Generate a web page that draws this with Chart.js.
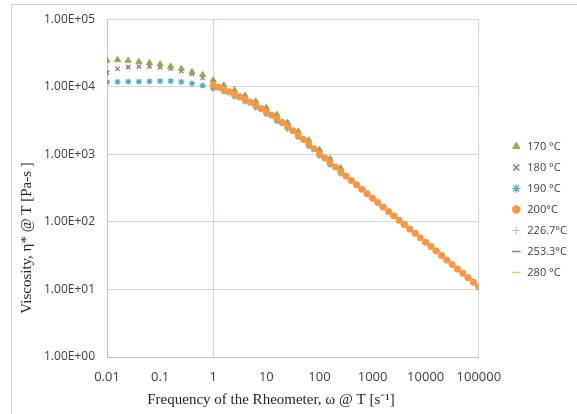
<!DOCTYPE html>
<html>
<head>
<meta charset="utf-8">
<script src="https://cdn.jsdelivr.net/npm/chart.js@4.4.1/dist/chart.umd.min.js"></script>
<style>
    html, body { margin: 0; padding: 0; background: #fff; }
    #wrap { position: relative; width: 577px; height: 414px; overflow: hidden; }
    #frame { position: absolute; left: 11px; top: 4px; width: 600px; height: 450px; border: 1px solid #cfcfcf; pointer-events: none; }
    canvas { position: absolute; left: 0; top: 0; }
</style>
</head>
<body>
<div id="wrap">
    <div id="frame"></div>
    <canvas id="viscChart" width="577" height="414"></canvas>
</div>
<script>
// Frecuencias (rad/s) y viscosidades (Pa-s)
const omegaLow = [0.01, 0.0158, 0.0251, 0.0398, 0.0631, 0.1, 0.158, 0.251, 0.398, 0.631, 1, 1.58, 2.51, 3.98, 6.31, 10, 15.8, 25.1, 39.8, 63.1, 100, 158, 251];
const eta170 = [24500, 25000, 24500, 23500, 22500, 21500, 20000, 18500, 16500, 15000, 12500, 10500, 8900, 7400, 6100, 4900, 3850, 2950, 2200, 1620, 1170, 860, 630];
const eta180 = [16200, 18500, 19500, 20000, 20000, 19500, 18500, 17000, 15500, 13500, 11500, 9800, 8300, 6950, 5700, 4550, 3600, 2750, 2070, 1520, 1100, 810, 590];
const eta190 = [11700, 11800, 11900, 11900, 12000, 12100, 12100, 11800, 11200, 10400, 9400, 8500, 7200, 6050, 4950, 3950, 3100, 2400, 1800, 1320, 950, 700, 520];

const omega200 = [1, 1.26, 1.58, 2, 2.51, 3.16, 3.98, 5.01, 6.31, 7.94, 10, 12.6, 15.8, 20, 25.1, 31.6, 39.8, 50.1, 63.1, 79.4, 100, 126, 158, 200, 251, 316, 398, 501, 631, 794, 1000, 1260, 1580, 2000, 2510, 3160, 3980, 5010, 6310, 7940, 10000, 12600, 15800, 20000, 25100, 31600, 39800, 50100, 63100, 79400, 100000];
const eta200 = [10500, 9800, 9120, 8430, 7770, 7120, 6490, 5890, 5320, 4780, 4270, 3790, 3350, 2950, 2580, 2240, 1940, 1660, 1420, 1210, 1020, 879, 755, 649, 557, 479, 411, 353, 303, 261, 224, 193, 166, 143, 123, 106, 91.2, 78.5, 67.6, 58.2, 50.1, 43.1, 37.0, 31.8, 27.3, 23.4, 20.1, 17.3, 14.9, 12.8, 11.0];

const omega226 = [3.98, 6.31, 10, 15.8, 25.1, 39.8, 63.1, 100, 158, 251, 398, 631, 1000, 1580, 2510];
const eta226 = [6400, 5250, 4200, 3300, 2540, 1910, 1400, 1010, 745, 550, 405, 300, 221, 164, 121];
const omega253 = [39.8, 63.1, 100, 158, 251, 398, 631, 1000, 1580, 2510, 3980, 6310, 10000, 15800, 25100];
const eta253 = [1960, 1440, 1035, 765, 563, 416, 307, 227, 168, 124, 92.3, 68.4, 50.7, 37.4, 27.6];
const omega280 = [398, 631, 1000, 1580, 2510, 3980, 6310, 10000, 15800, 25100, 39800, 63100, 100000];
const eta280 = [409, 301, 223, 165, 122, 90.6, 67.2, 49.8, 36.8, 27.1, 19.9, 14.7, 10.9];

// Ejes
const xTicks = [0.01, 0.1, 1, 10, 100, 1000, 10000, 100000];
const xTickLabels = ['0.01', '0.1', '1', '10', '100', '1000', '10000', '100000'];
const yTicks = [1, 10, 100, 1000, 10000, 100000];
const yTickLabels = ['1.00E+00', '1.00E+01', '1.00E+02', '1.00E+03', '1.00E+04', '1.00E+05'];
const xTitle = 'Frequency of the Rheometer, \u03c9 @ T [s\u207b\u00b9]';
const yTitle = 'Viscosity, \u03b7* @ T [Pa-s ]';

const gridColor = '#d9d3d3';
const textColor = '#404040';

function pts(xs, ys) {
    return xs.map((x, i) => ({ x: x, y: ys[i] }));
}

// Titulos de ejes (desplazados como en el original)
const axisTitles = {
    id: 'axisTitles',
    afterDraw(chart) {
        const ctx = chart.ctx;
        ctx.save();
        ctx.fillStyle = '#262626';
        ctx.font = '15px "Liberation Serif"';
        ctx.textAlign = 'center';
        ctx.textBaseline = 'middle';
        ctx.fillText(xTitle, 271, 400);
        ctx.translate(27, 238);
        ctx.rotate(-Math.PI / 2);
        ctx.fillText(yTitle, 0, 0);
        ctx.restore();
    }
};

const ctx = document.getElementById('viscChart').getContext('2d');
const viscChart = new Chart(ctx, {
    type: 'scatter',
    data: {
        datasets: [
            { label: '170 \u00b0C', data: pts(omegaLow, eta170), pointStyle: 'triangle', pointRadius: 3.5,
              backgroundColor: '#8aae4a', borderColor: '#8aae4a', borderWidth: 1, order: 1 },
            { label: '180 \u00b0C', data: pts(omegaLow, eta180), pointStyle: 'crossRot', pointRadius: 3,
              backgroundColor: '#8064a2', borderColor: '#8064a2', borderWidth: 1.2, order: 1 },
            { label: '190 \u00b0C', data: pts(omegaLow, eta190), pointStyle: 'star', pointRadius: 3,
              backgroundColor: '#4bacc6', borderColor: '#4bacc6', borderWidth: 1.2, order: 1 },
            { label: '200\u00b0C', data: pts(omega200, eta200), pointStyle: 'circle', pointRadius: 3.5,
              backgroundColor: '#f79646', borderColor: '#f79646', borderWidth: 0, order: 0 },
            { label: '226.7\u00b0C', data: pts(omega226, eta226), pointStyle: 'cross', pointRadius: 2.5,
              backgroundColor: '#a9c0de', borderColor: '#a9c0de', borderWidth: 1, order: 2 },
            { label: '253.3\u00b0C', data: pts(omega253, eta253), pointStyle: 'line', pointRadius: 2.5,
              backgroundColor: '#d46a6a', borderColor: '#d46a6a', borderWidth: 1.5, order: 2 },
            { label: '280 \u00b0C', data: pts(omega280, eta280), pointStyle: 'line', pointRadius: 4,
              backgroundColor: '#e2c27a', borderColor: '#e2c27a', borderWidth: 1.5, order: 2 }
        ]
    },
    options: {
        responsive: false,
        animation: false,
        layout: {
            padding: { left: 12, top: 5, right: 0, bottom: 0 }
        },
        plugins: {
            tooltip: { enabled: false },
            legend: {
                position: 'right',
                labels: {
                    usePointStyle: true,
                    boxHeight: 6,
                    padding: 10,
                    color: textColor,
                    font: { family: '"Open Sans"', size: 11 },
                    sort: (a, b) => a.datasetIndex - b.datasetIndex
                }
            }
        },
        scales: {
            x: {
                type: 'logarithmic',
                min: 0.01,
                max: 100000,
                afterBuildTicks: s => { s.ticks = xTicks.map(v => ({ value: v })); },
                afterFit: s => { s.height = 57; },
                ticks: {
                    autoSkip: false,
                    maxRotation: 0,
                    padding: 12,
                    color: textColor,
                    font: { family: '"Open Sans"', size: 13 },
                    callback: (v, i) => xTickLabels[i]
                },
                grid: {
                    drawTicks: false,
                    color: c => (c.tick && [0.01, 1, 100000].includes(c.tick.value)) ? gridColor : 'rgba(0,0,0,0)'
                },
                border: { color: '#c4c0c0' }
            },
            y: {
                type: 'logarithmic',
                min: 1,
                max: 100000,
                afterBuildTicks: s => { s.ticks = yTicks.map(v => ({ value: v })); },
                afterFit: s => { s.width = 95; },
                ticks: {
                    autoSkip: false,
                    padding: 12,
                    color: textColor,
                    font: { family: '"Open Sans"', size: 12 },
                    callback: (v, i) => yTickLabels[i]
                },
                grid: { drawTicks: false, color: gridColor },
                border: { color: '#c4c0c0' }
            },
            gap: {
                type: 'linear',
                position: 'right',
                display: true,
                grid: { display: false },
                ticks: { display: false },
                border: { display: false },
                afterFit: s => { s.width = 22; }
            }
        }
    },
    plugins: [axisTitles]
});
</script>
</body>
</html>
